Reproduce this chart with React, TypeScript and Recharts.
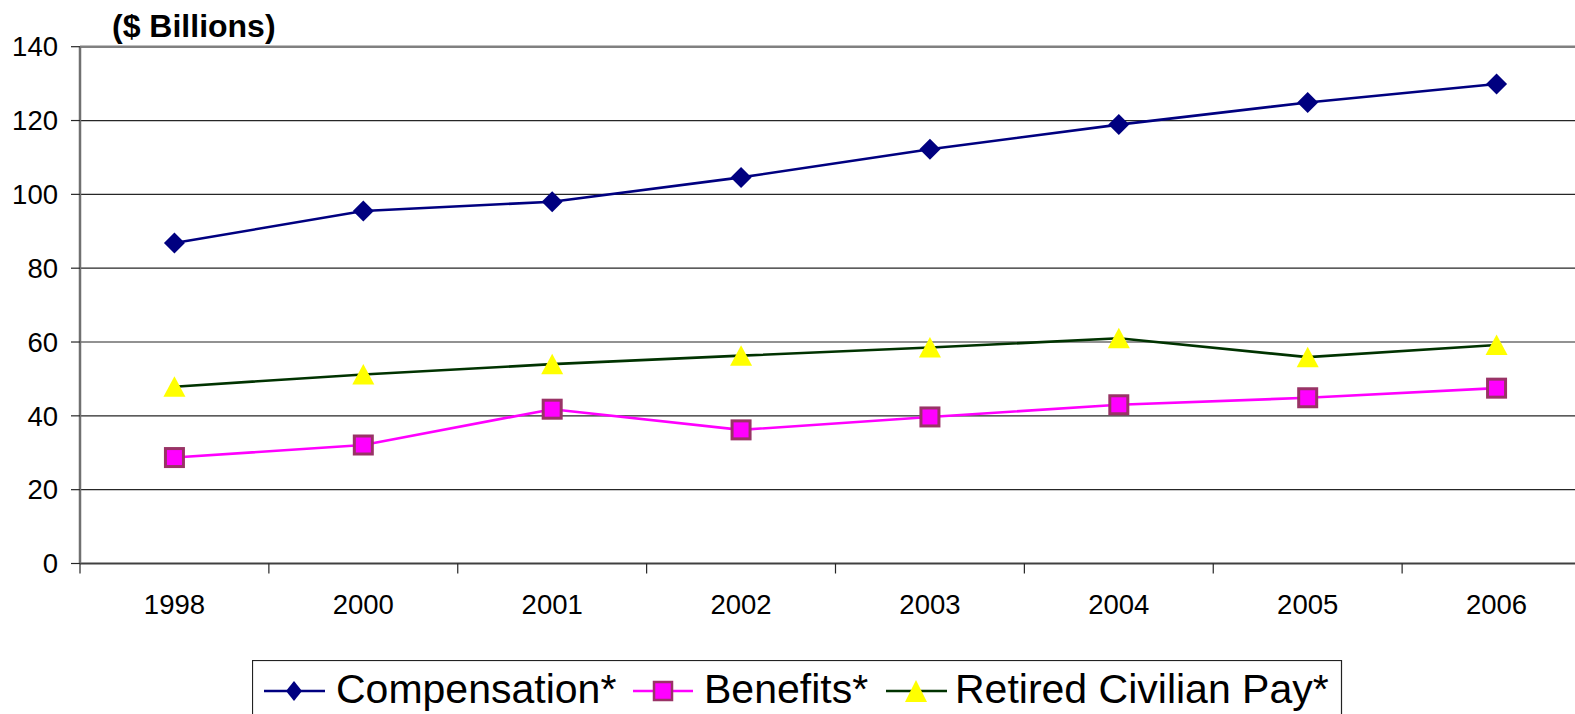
import { CartesianGrid, Line, LineChart, ReferenceLine, XAxis, YAxis } from 'recharts'

const years = ['1998', '2000', '2001', '2002', '2003', '2004', '2005', '2006']
const compensation = [86.8, 95.5, 98.0, 104.6, 112.2, 118.9, 124.9, 129.9]
const benefits = [28.7, 32.1, 41.8, 36.2, 39.7, 43.0, 44.9, 47.5]
const retiredPay = [47.9, 51.2, 54.0, 56.3, 58.5, 61.0, 55.9, 59.2]
const yTicks = [0, 20, 40, 60, 80, 100, 120, 140]

const FONT = '"Liberation Sans", Arial, sans-serif'

// one row per year, x position is the category index
const data = years.map((year, i) => ({
  pos: i,
  year,
  compensation: compensation[i],
  benefits: benefits[i],
  retired: retiredPay[i],
}))

// labels sit on the categories, tick marks sit between them
const xTicks = years.flatMap((_, i) => [i - 0.5, i]).concat(years.length - 0.5)

const XTick = ({ x, y, payload }: { x: number; y: number; payload: { value: number } }) => {
  const v = payload.value
  if (Number.isInteger(v)) {
    return (
      <text x={x} y={y + 50} textAnchor="middle" fontSize={27.5} fontFamily={FONT} fill="#000">
        {years[v]}
      </text>
    )
  }
  return <line x1={x} x2={x} y1={y} y2={y + 10} stroke="#262626" strokeWidth={1.2} />
}

const diamond = (props: any) => {
  const { cx, cy, index } = props
  return (
    <path
      key={`d-${index}`}
      d={`M${cx},${cy - 10.5}L${cx + 10.5},${cy}L${cx},${cy + 10.5}L${cx - 10.5},${cy}Z`}
      fill="#000080"
    />
  )
}

const square = (props: any) => {
  const { cx, cy, index } = props
  return (
    <rect
      key={`s-${index}`}
      x={cx - 9}
      y={cy - 9}
      width={18}
      height={18}
      fill="#FF00FF"
      stroke="#993366"
      strokeWidth={3}
    />
  )
}

const triangle = (props: any) => {
  const { cx, cy, index } = props
  return (
    <path
      key={`t-${index}`}
      d={`M${cx},${cy - 10.5}L${cx + 11},${cy + 10}L${cx - 11},${cy + 10}Z`}
      fill="#FFFF00"
    />
  )
}

function ChartLegend() {
  return (
    <svg
      width={1120}
      height={60}
      style={{ position: 'absolute', left: 252, top: 660 }}
      fontFamily={FONT}
    >
      <rect x={0.5} y={0.5} width={1089} height={70} fill="#fff" stroke="#222" strokeWidth={1.2} />
      <line x1={12} x2={73} y1={31} y2={31} stroke="#000080" strokeWidth={2.5} />
      <path d="M42,21L50,31L42,41L34,31Z" fill="#000080" />
      <text x={84} y={43} fontSize={41}>Compensation*</text>
      <line x1={381} x2={441} y1={31} y2={31} stroke="#FF00FF" strokeWidth={2.5} />
      <rect x={402} y={22} width={18} height={18} fill="#FF00FF" stroke="#993366" strokeWidth={2.5} />
      <text x={452} y={43} fontSize={41}>Benefits*</text>
      <line x1={634} x2={695} y1={31} y2={31} stroke="#003300" strokeWidth={2.5} />
      <path d="M664,20L675,42L653,42Z" fill="#FFFF00" />
      <text x={703} y={43} fontSize={41}>Retired Civilian Pay*</text>
    </svg>
  )
}

export default function App() {
  return (
    <div
      style={{
        position: 'absolute',
        left: 0,
        top: 0,
        width: 1575,
        height: 714,
        overflow: 'hidden',
        background: '#fff',
      }}
    >
      <svg width={400} height={50} style={{ position: 'absolute', left: 0, top: 0 }}>
        <text x={112} y={37} fontSize={32} fontWeight="bold" fontFamily={FONT} fill="#000">
          ($ Billions)
        </text>
      </svg>
      <LineChart
        width={1620}
        height={714}
        data={data}
        margin={{ top: 46.7, right: 29, bottom: 90.5, left: 0 }}
        style={{ position: 'absolute', left: 0, top: 0 }}
      >
        <CartesianGrid vertical={false} stroke="#262626" strokeWidth={1.2} />
        <ReferenceLine y={140} stroke="#808080" strokeWidth={2.5} />
        <XAxis
          dataKey="pos"
          type="number"
          domain={[-0.5, years.length - 0.5]}
          ticks={xTicks}
          interval={0}
          tick={XTick}
          tickLine={false}
          tickSize={0}
          tickMargin={0}
          height={60}
          axisLine={{ stroke: '#404040', strokeWidth: 2 }}
        />
        <YAxis
          type="number"
          domain={[0, 140]}
          ticks={yTicks}
          interval={0}
          width={80}
          tickSize={9}
          tickMargin={13}
          tick={{ fontSize: 27.5, fontFamily: FONT, fill: '#000' }}
          tickLine={{ stroke: '#262626', strokeWidth: 1.2 }}
          axisLine={{ stroke: '#707070', strokeWidth: 2.5 }}
        />
        <Line
          dataKey="compensation"
          stroke="#000080"
          strokeWidth={2.6}
          dot={diamond}
          activeDot={false}
          isAnimationActive={false}
        />
        <Line
          dataKey="benefits"
          stroke="#FF00FF"
          strokeWidth={2.6}
          dot={square}
          activeDot={false}
          isAnimationActive={false}
        />
        <Line
          dataKey="retired"
          stroke="#003300"
          strokeWidth={2.6}
          dot={triangle}
          activeDot={false}
          isAnimationActive={false}
        />
      </LineChart>
      <ChartLegend />
    </div>
  )
}
